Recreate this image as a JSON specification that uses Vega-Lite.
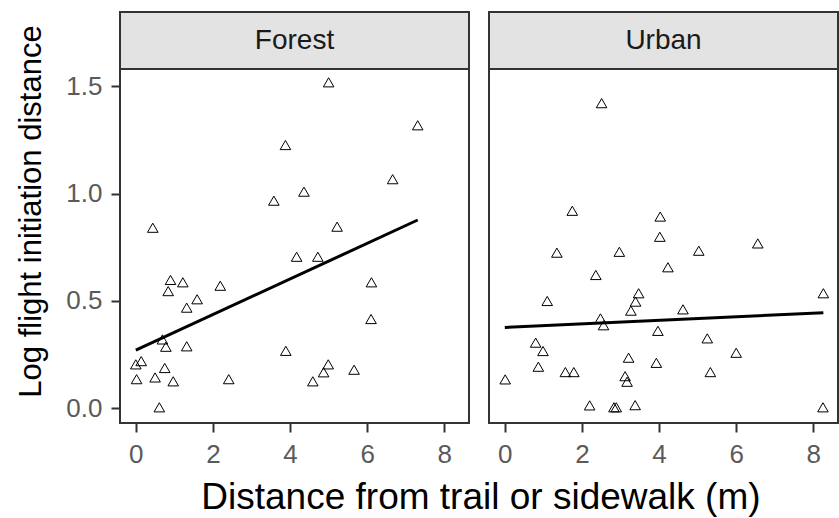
{
  "$schema": "https://vega.github.io/schema/vega-lite/v6.json",
  "background": "white",
  "padding": {"left": 14, "top": 11, "right": 0, "bottom": 5},
  "spacing": 18,
  "title": {
    "text": "Distance from trail or sidewalk (m)",
    "orient": "bottom",
    "anchor": "middle",
    "frame": "bounds",
    "dx": 54,
    "offset": 12,
    "fontSize": 37,
    "fontWeight": "normal",
    "font": "Liberation Sans",
    "color": "#000000"
  },
  "config": {
    "font": "Liberation Sans",
    "view": {"stroke": "#333333", "strokeWidth": 2},
    "axis": {
      "domain": false,
      "grid": false,
      "tickColor": "#333333",
      "tickWidth": 2,
      "tickSize": 9,
      "labelColor": "#5a5a5a",
      "labelFontSize": 26,
      "labelFont": "Liberation Sans",
      "labelPadding": 9,
      "titleFont": "Liberation Sans",
      "titleFontWeight": "normal",
      "titleColor": "#000000"
    }
  },
  "datasets": {
    "points": [
      {"site": "Forest", "distance": 0.00, "fid": 0.205},
      {"site": "Forest", "distance": 0.14, "fid": 0.220},
      {"site": "Forest", "distance": 0.02, "fid": 0.136},
      {"site": "Forest", "distance": 0.50, "fid": 0.144},
      {"site": "Forest", "distance": 0.44, "fid": 0.841},
      {"site": "Forest", "distance": 0.61, "fid": 0.005},
      {"site": "Forest", "distance": 0.69, "fid": 0.321},
      {"site": "Forest", "distance": 0.78, "fid": 0.287},
      {"site": "Forest", "distance": 0.75, "fid": 0.188},
      {"site": "Forest", "distance": 0.84, "fid": 0.546},
      {"site": "Forest", "distance": 0.90, "fid": 0.598},
      {"site": "Forest", "distance": 0.97, "fid": 0.126},
      {"site": "Forest", "distance": 1.22, "fid": 0.587},
      {"site": "Forest", "distance": 1.32, "fid": 0.469},
      {"site": "Forest", "distance": 1.32, "fid": 0.289},
      {"site": "Forest", "distance": 1.59, "fid": 0.508},
      {"site": "Forest", "distance": 2.19, "fid": 0.571},
      {"site": "Forest", "distance": 2.41, "fid": 0.136},
      {"site": "Forest", "distance": 3.58, "fid": 0.967},
      {"site": "Forest", "distance": 3.88, "fid": 1.226},
      {"site": "Forest", "distance": 3.89, "fid": 0.268},
      {"site": "Forest", "distance": 4.17, "fid": 0.706},
      {"site": "Forest", "distance": 4.36, "fid": 1.009},
      {"site": "Forest", "distance": 4.59, "fid": 0.126},
      {"site": "Forest", "distance": 4.72, "fid": 0.706},
      {"site": "Forest", "distance": 4.87, "fid": 0.168},
      {"site": "Forest", "distance": 4.99, "fid": 0.205},
      {"site": "Forest", "distance": 5.00, "fid": 1.518},
      {"site": "Forest", "distance": 5.22, "fid": 0.846},
      {"site": "Forest", "distance": 5.66, "fid": 0.180},
      {"site": "Forest", "distance": 6.11, "fid": 0.587},
      {"site": "Forest", "distance": 6.10, "fid": 0.416},
      {"site": "Forest", "distance": 6.66, "fid": 1.067},
      {"site": "Forest", "distance": 7.31, "fid": 1.318},
      {"site": "Urban", "distance": 2.51, "fid": 1.421},
      {"site": "Urban", "distance": 1.75, "fid": 0.920},
      {"site": "Urban", "distance": 4.03, "fid": 0.893},
      {"site": "Urban", "distance": 4.02, "fid": 0.799},
      {"site": "Urban", "distance": 6.56, "fid": 0.768},
      {"site": "Urban", "distance": 1.35, "fid": 0.725},
      {"site": "Urban", "distance": 2.97, "fid": 0.729},
      {"site": "Urban", "distance": 5.03, "fid": 0.734},
      {"site": "Urban", "distance": 4.23, "fid": 0.657},
      {"site": "Urban", "distance": 2.36, "fid": 0.621},
      {"site": "Urban", "distance": 3.47, "fid": 0.536},
      {"site": "Urban", "distance": 8.26, "fid": 0.536},
      {"site": "Urban", "distance": 3.39, "fid": 0.497},
      {"site": "Urban", "distance": 1.10, "fid": 0.500},
      {"site": "Urban", "distance": 3.27, "fid": 0.455},
      {"site": "Urban", "distance": 4.62, "fid": 0.461},
      {"site": "Urban", "distance": 2.48, "fid": 0.419},
      {"site": "Urban", "distance": 2.56, "fid": 0.387},
      {"site": "Urban", "distance": 3.97, "fid": 0.361},
      {"site": "Urban", "distance": 5.25, "fid": 0.326},
      {"site": "Urban", "distance": 0.80, "fid": 0.306},
      {"site": "Urban", "distance": 0.99, "fid": 0.267},
      {"site": "Urban", "distance": 6.00, "fid": 0.259},
      {"site": "Urban", "distance": 3.21, "fid": 0.236},
      {"site": "Urban", "distance": 3.93, "fid": 0.212},
      {"site": "Urban", "distance": 0.87, "fid": 0.194},
      {"site": "Urban", "distance": 1.57, "fid": 0.169},
      {"site": "Urban", "distance": 1.79, "fid": 0.169},
      {"site": "Urban", "distance": 5.33, "fid": 0.169},
      {"site": "Urban", "distance": 3.12, "fid": 0.150},
      {"site": "Urban", "distance": 3.17, "fid": 0.124},
      {"site": "Urban", "distance": 0.01, "fid": 0.135},
      {"site": "Urban", "distance": 2.20, "fid": 0.014},
      {"site": "Urban", "distance": 2.83, "fid": 0.005},
      {"site": "Urban", "distance": 2.89, "fid": 0.005},
      {"site": "Urban", "distance": 3.38, "fid": 0.015},
      {"site": "Urban", "distance": 8.25, "fid": 0.005}
    ],
    "fits": [
      {"site": "Forest", "distance": 0.0, "fid": 0.271},
      {"site": "Forest", "distance": 7.31, "fid": 0.877},
      {"site": "Urban", "distance": 0.0, "fid": 0.377},
      {"site": "Urban", "distance": 8.26, "fid": 0.445}
    ],
    "strips": [
      {"site": "Forest"},
      {"site": "Urban"}
    ]
  },
  "hconcat": [
    {
      "bounds": "flush",
      "spacing": 0,
      "vconcat": [
        {
          "width": 349,
          "height": 57,
          "view": {"fill": "#e3e3e3", "stroke": "#333333", "strokeWidth": 2},
          "data": {"name": "strips"},
          "transform": [{"filter": "datum.site === 'Forest'"}],
          "mark": {"type": "text", "fontSize": 28, "color": "#1a1a1a", "font": "Liberation Sans"},
          "encoding": {"text": {"field": "site"}}
        },
        {
          "width": 349,
          "height": 354,
          "layer": [
            {
              "data": {"name": "points"},
              "transform": [{"filter": "datum.site === 'Forest'"}],
              "mark": {"type": "point", "shape": "triangle-up", "filled": false, "stroke": "#000000", "strokeWidth": 1, "size": 112, "opacity": 1},
              "encoding": {
                "x": {"field": "distance", "type": "quantitative", "scale": {"domain": [-0.41, 8.64], "nice": false, "zero": false},
                  "axis": {"values": [0, 2, 4, 6, 8], "format": "d", "title": null}},
                "y": {"field": "fid", "type": "quantitative", "scale": {"domain": [-0.068, 1.58], "nice": false, "zero": false},
                  "axis": {"values": [0, 0.5, 1, 1.5], "format": ".1f", "title": "Log flight initiation distance", "titleFontSize": 31, "titleY": 142, "titlePadding": 18}}
              }
            },
            {
              "data": {"name": "fits"},
              "transform": [{"filter": "datum.site === 'Forest'"}],
              "mark": {"type": "line", "color": "#000000", "strokeWidth": 3},
              "encoding": {
                "x": {"field": "distance", "type": "quantitative"},
                "y": {"field": "fid", "type": "quantitative"}
              }
            }
          ]
        }
      ]
    },
    {
      "bounds": "flush",
      "spacing": 0,
      "vconcat": [
        {
          "width": 349,
          "height": 57,
          "view": {"fill": "#e3e3e3", "stroke": "#333333", "strokeWidth": 2},
          "data": {"name": "strips"},
          "transform": [{"filter": "datum.site === 'Urban'"}],
          "mark": {"type": "text", "fontSize": 28, "color": "#1a1a1a", "font": "Liberation Sans"},
          "encoding": {"text": {"field": "site"}}
        },
        {
          "width": 349,
          "height": 354,
          "layer": [
            {
              "data": {"name": "points"},
              "transform": [{"filter": "datum.site === 'Urban'"}],
              "mark": {"type": "point", "shape": "triangle-up", "filled": false, "stroke": "#000000", "strokeWidth": 1, "size": 112, "opacity": 1},
              "encoding": {
                "x": {"field": "distance", "type": "quantitative", "scale": {"domain": [-0.41, 8.64], "nice": false, "zero": false},
                  "axis": {"values": [0, 2, 4, 6, 8], "format": "d", "title": null}},
                "y": {"field": "fid", "type": "quantitative", "scale": {"domain": [-0.068, 1.58], "nice": false, "zero": false},
                  "axis": null}
              }
            },
            {
              "data": {"name": "fits"},
              "transform": [{"filter": "datum.site === 'Urban'"}],
              "mark": {"type": "line", "color": "#000000", "strokeWidth": 3},
              "encoding": {
                "x": {"field": "distance", "type": "quantitative"},
                "y": {"field": "fid", "type": "quantitative"}
              }
            }
          ]
        }
      ]
    }
  ]
}
